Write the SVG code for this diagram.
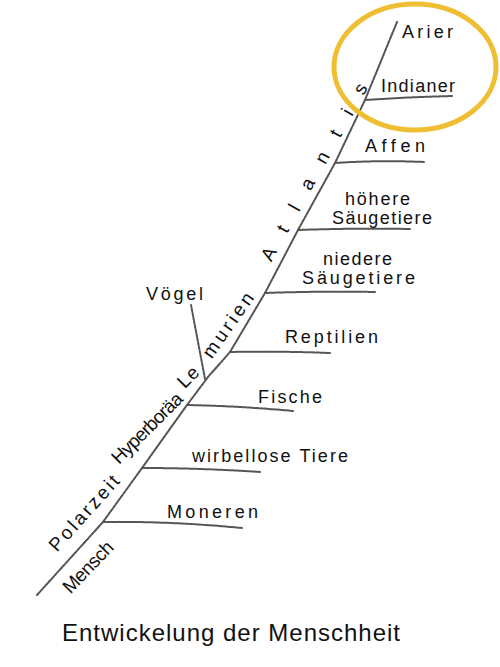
<svg xmlns="http://www.w3.org/2000/svg" width="500" height="667" viewBox="0 0 500 667">
<style>
.lbl{font-family:"Liberation Sans","DejaVu Sans",sans-serif;font-size:18px;fill:#111}
.rot{font-family:"Liberation Sans","DejaVu Sans",sans-serif;font-size:19px;fill:#111;text-anchor:middle;dominant-baseline:central}
.title{font-family:"Liberation Sans","DejaVu Sans",sans-serif;font-size:24px;fill:#111}
.ln{fill:none;stroke:#555;stroke-width:2;stroke-dasharray:3 1.3;stroke-linecap:round}
.ln2{fill:none;stroke:#aaa;stroke-width:0.8}
</style>
<rect width="500" height="667" fill="#fff"/>
<g id="connectors">
<path class="ln2" d="M37,595 L103,522 L142,468 L187,405 L208,377 L230,352 L265,293 L298,230 L335,163 L365,100 L397,22"/>
<path class="ln" d="M37,595 L103,522 L142,468 L187,405 L208,377 L230,352 L265,293 L298,230 L335,163 L365,100 L397,22"/>
<path class="ln" d="M103,522 Q170,521 242,528"/>
<path class="ln" d="M142,468 Q200,468 260,472"/>
<path class="ln" d="M187,405 Q240,406 293,411"/>
<path class="ln" d="M230,352 Q280,351 330,353"/>
<path class="ln" d="M265,293 Q320,291 375,292"/>
<path class="ln" d="M298,230 Q355,228 410,229"/>
<path class="ln" d="M335,163 Q380,160 425,162"/>
<path class="ln" d="M365,100 Q410,97 452,96"/>
<path class="ln" d="M205,379 L191,305"/>
</g>
<g id="highlight"><ellipse cx="415" cy="67" rx="81" ry="63" fill="none" stroke="#F0BE32" stroke-width="5"/></g>
<g id="arier"><text class="lbl" x="402" y="38" textLength="51" lengthAdjust="spacing">Arier</text></g>
<g id="indianer"><text class="lbl" x="381" y="92" textLength="74" lengthAdjust="spacing">Indianer</text></g>
<g id="affen"><text class="lbl" x="365" y="152" textLength="60" lengthAdjust="spacing">Affen</text></g>
<g id="hoehere"><text class="lbl" x="345" y="205" textLength="65" lengthAdjust="spacing">höhere</text><text class="lbl" x="332" y="224" textLength="100" lengthAdjust="spacing">Säugetiere</text></g>
<g id="niedere"><text class="lbl" x="323" y="265" textLength="69" lengthAdjust="spacing">niedere</text><text class="lbl" x="302" y="284" textLength="113" lengthAdjust="spacing">Säugetiere</text></g>
<g id="reptilien"><text class="lbl" x="285" y="343" textLength="93" lengthAdjust="spacing">Reptilien</text></g>
<g id="voegel"><text class="lbl" x="146" y="300" textLength="57" lengthAdjust="spacing">Vögel</text></g>
<g id="fische"><text class="lbl" x="258" y="403" textLength="64" lengthAdjust="spacing">Fische</text></g>
<g id="wirbellose"><text class="lbl" x="192" y="462" textLength="156" lengthAdjust="spacing">wirbellose Tiere</text></g>
<g id="moneren"><text class="lbl" x="167" y="518" textLength="91" lengthAdjust="spacing">Moneren</text></g>
<g id="trunk-labels">
<text class="rot" x="88" y="567" transform="rotate(-46 88 567)" font-size="18" textLength="64" lengthAdjust="spacing">Mensch</text>
<text class="rot" x="84" y="513" transform="rotate(-48 84 513)" textLength="95" lengthAdjust="spacing">Polarzeit</text>
<text class="rot" x="147" y="428" transform="rotate(-45 147 428)" font-size="17" textLength="92" lengthAdjust="spacing">Hyperboräa</text>
<text class="rot" x="188" y="377" transform="rotate(-45 188 377)" textLength="22" lengthAdjust="spacing">Le</text>
<text class="rot" x="228" y="325" transform="rotate(-55 228 325)" textLength="75" lengthAdjust="spacing">murien</text>
<text class="rot" x="314" y="172" transform="rotate(-61 314 172)" textLength="200" lengthAdjust="spacing">Atlantis</text>
</g>
<g id="title"><text class="title" x="62" y="641" textLength="338" lengthAdjust="spacing">Entwickelung der Menschheit</text></g>
</svg>
